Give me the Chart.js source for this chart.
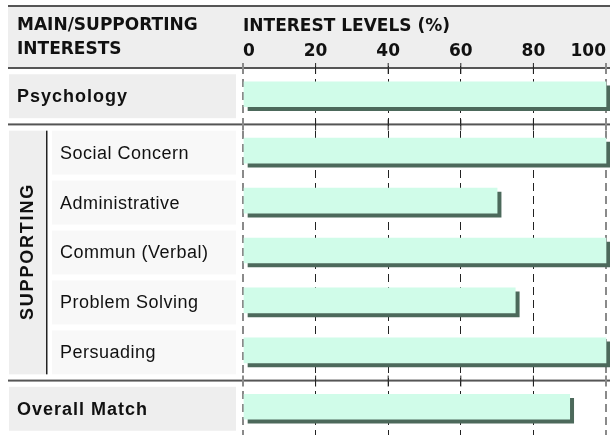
<!DOCTYPE html>
<html>
<head>
<meta charset="utf-8">
<script src="https://cdn.jsdelivr.net/npm/chart.js@4.4.0/dist/chart.umd.min.js"></script>
<style>
  body { margin: 0; background: #fff; }
  #wrap { width: 610px; height: 435px; position: relative; }
</style>
</head>
<body>
<div id="wrap"><canvas id="interests"></canvas></div>
<script>
var categories = ['Psychology', 'Social Concern', 'Administrative', 'Commun (Verbal)', 'Problem Solving', 'Persuading', 'Overall Match'];
var groups = ['main', 'supporting', 'supporting', 'supporting', 'supporting', 'supporting', 'overall'];
var interestLevels = [100, 100, 70, 100, 75, 100, 90];
var xTicks = [0, 20, 40, 60, 80, 100];
var headerLeft = ['MAIN/SUPPORTING', 'INTERESTS'];
var axisTitle = 'INTEREST LEVELS (%)';
var groupTitle = 'SUPPORTING';

// row positions on the y scale: one unit per row, a little extra room round each group
var GAP = 0.13;
var rowPos = [], groupStart = [], pos = 0;
categories.forEach(function(c, i) {
  if (i === 0 || groups[i] !== groups[i - 1]) {
    if (i > 0) pos += GAP / 2;
    groupStart.push(pos);
    pos += GAP / 2;
  }
  rowPos.push(pos + 0.5);
  pos += 1;
});
var yMax = pos + GAP / 2;

var SHADOW = 4;
var LINE = '#555';

var barShadow = {
  id: 'barShadow',
  beforeDatasetDraw: function(chart) {
    var ctx = chart.ctx;
    ctx.save();
    ctx.shadowColor = '#4c695b';
    ctx.shadowOffsetX = SHADOW;
    ctx.shadowOffsetY = SHADOW;
    ctx.shadowBlur = 0;
  },
  afterDatasetDraw: function(chart) {
    chart.ctx.restore();
  }
};

var labelPanel = {
  id: 'labelPanel',
  beforeDraw: function(chart) {
    var ctx = chart.ctx, w = chart.width;
    ctx.save();
    ctx.fillStyle = '#eeeeee';
    ctx.fillRect(8, 6, w - 8, 62);
    ctx.fillStyle = LINE;
    ctx.fillRect(8, 5, w - 8, 2);
    ctx.fillStyle = '#111';
    ctx.font = 'bold 17px "DejaVu Sans"';
    ctx.textBaseline = 'alphabetic';
    ctx.fillText(headerLeft[0], 17, 30);
    ctx.fillText(headerLeft[1], 17, 54);
    ctx.restore();
  },
  beforeDatasetsDraw: function(chart) {
    var ctx = chart.ctx, ys = chart.scales.y, xs = chart.scales.x, w = chart.width;
    var ppu = Math.abs(ys.getPixelForValue(1) - ys.getPixelForValue(0));
    var boxH = ppu - 6;
    ctx.save();

    // supporting block on the left
    var first = groups.indexOf('supporting'), last = groups.lastIndexOf('supporting');
    var supTop = ys.getPixelForValue(rowPos[first]) + SHADOW / 2 - boxH / 2;
    var supBot = ys.getPixelForValue(rowPos[last]) + SHADOW / 2 + boxH / 2;
    ctx.fillStyle = '#eeeeee';
    ctx.fillRect(9, supTop, 37, supBot - supTop);
    ctx.fillStyle = '#222';
    ctx.fillRect(46, supTop, 1.5, supBot - supTop);
    ctx.save();
    ctx.translate(27, (supTop + supBot) / 2);
    ctx.rotate(-Math.PI / 2);
    ctx.font = 'bold 18px "Liberation Sans"';
    ctx.letterSpacing = '1.8px';
    ctx.textAlign = 'center';
    ctx.textBaseline = 'middle';
    ctx.fillStyle = '#111';
    ctx.fillText(groupTitle, 1, 1);
    ctx.letterSpacing = '0px';
    ctx.restore();

    // label boxes
    categories.forEach(function(c, i) {
      var cy = ys.getPixelForValue(rowPos[i]) + SHADOW / 2;
      var sup = groups[i] === 'supporting';
      ctx.fillStyle = sup ? '#f8f8f8' : '#eeeeee';
      ctx.fillRect(sup ? 52 : 9, cy - boxH / 2, sup ? 184 : 227, boxH);
      ctx.fillStyle = '#111';
      ctx.textBaseline = 'middle';
      ctx.textAlign = 'left';
      ctx.font = (sup ? '' : 'bold ') + '18px "Liberation Sans"';
      ctx.letterSpacing = sup ? '0.5px' : '1px';
      ctx.fillText(c, sup ? 60 : 17, cy + 1);
    });
    ctx.letterSpacing = '0px';

    // separators between groups, with a short solid tick where each grid line crosses
    groupStart.forEach(function(g) {
      var py = ys.getPixelForValue(g) + SHADOW / 2;
      ctx.fillStyle = LINE;
      ctx.fillRect(8, py - 1, w - 8, 2);
      xTicks.forEach(function(t, k) {
        var px = xs.getPixelForValue(t);
        var edge = k === 0 || k === xTicks.length - 1;
        ctx.strokeStyle = edge ? '#8a8a8a' : '#222';
        ctx.lineWidth = edge ? 2 : 1;
        ctx.beginPath();
        ctx.moveTo(px, py - 5);
        ctx.lineTo(px, py + 6);
        ctx.stroke();
      });
    });
    ctx.restore();
  }
};

var ctx = document.getElementById('interests').getContext('2d');
var chart = new Chart(ctx, {
  type: 'bar',
  plugins: [labelPanel, barShadow],
  data: {
    labels: categories,
    datasets: [{
      data: rowPos.map(function(p, i) { return { x: interestLevels[i], y: p }; }),
      backgroundColor: '#d0fce9',
      borderWidth: 0,
      barThickness: 25,
      clip: false
    }]
  },
  options: {
    indexAxis: 'y',
    responsive: true,
    maintainAspectRatio: false,
    animation: false,
    events: [],
    layout: { padding: { left: 243, right: 4, top: 0, bottom: 0 } },
    plugins: { legend: { display: false }, tooltip: { enabled: false } },
    scales: {
      x: {
        type: 'linear',
        position: 'top',
        min: xTicks[0],
        max: xTicks[xTicks.length - 1],
        afterBuildTicks: function(s) { s.ticks = xTicks.map(function(v) { return { value: v }; }); },
        afterFit: function(s) { s.height = 66; },
        ticks: {
          align: 'inner',
          padding: 4,
          color: '#111',
          font: { family: 'DejaVu Sans', size: 17, weight: 'bold' }
        },
        title: {
          display: true,
          text: axisTitle,
          align: 'start',
          color: '#111',
          padding: { top: 16, bottom: 0 },
          font: { family: 'DejaVu Sans', size: 17, weight: 'bold' }
        },
        grid: {
          drawTicks: false,
          color: function(c) { return (c.index === 0 || c.index === xTicks.length - 1) ? '#8a8a8a' : '#222'; },
          lineWidth: function(c) { return (c.index === 0 || c.index === xTicks.length - 1) ? 2 : 1; }
        },
        border: { display: false, dash: [8, 5] }
      },
      y: {
        type: 'linear',
        display: false,
        reverse: true,
        offset: false,
        min: 0,
        max: yMax
      }
    }
  }
});
</script>
</body>
</html>
